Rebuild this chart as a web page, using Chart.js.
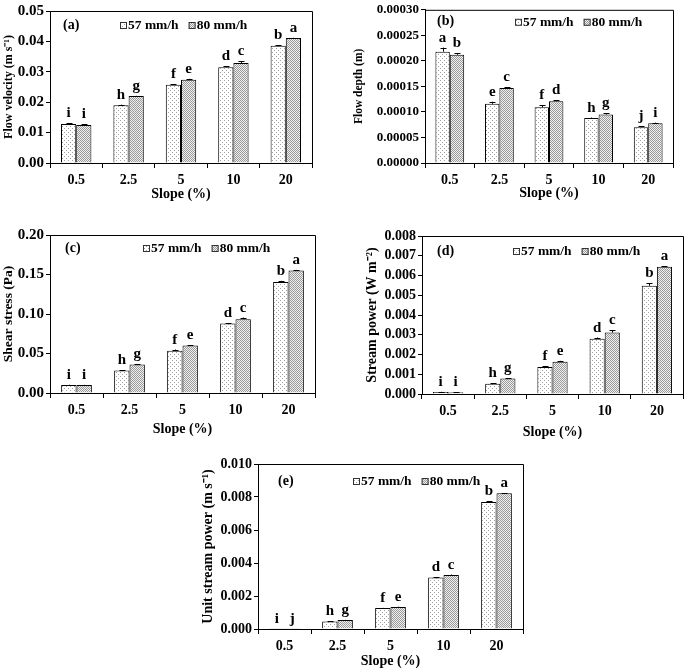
<!DOCTYPE html>
<html>
<head>
<meta charset="utf-8">
<script src="https://cdn.jsdelivr.net/npm/chart.js@4.4.0/dist/chart.umd.min.js"></script>
<style>
  body { margin: 0; background: #fff; }
  #wrap { position: relative; width: 685px; height: 670px; }
  canvas { position: absolute; }
</style>
</head>
<body>
<div id="wrap">
  <canvas id="velChart" width="320" height="203" style="left:0;top:0"></canvas>
  <canvas id="depthChart" width="345" height="202" style="left:340px;top:0"></canvas>
  <canvas id="shearChart" width="320" height="218" style="left:0;top:220px"></canvas>
  <canvas id="powerChart" width="345" height="221" style="left:340px;top:220px"></canvas>
  <canvas id="unitChart" width="360" height="230" style="left:170px;top:440px"></canvas>
</div>
<script>
const slopes = ["0.5", "2.5", "5", "10", "20"];
const rainLabels = ["57 mm/h", "80 mm/h"];

// (a) flow velocity
const vel57 = [0.0128, 0.0190, 0.0257, 0.0315, 0.0386];
const vel80 = [0.0125, 0.0220, 0.0274, 0.0329, 0.0411];
const vel57Err = [0.0003, 0.0002, 0.0002, 0.0003, 0.0002];
const vel80Err = [0.0002, 0.0001, 0.0003, 0.0005, 0.0001];
const vel57Let = ["i", "h", "f", "d", "b"];
const vel80Let = ["i", "g", "e", "c", "a"];

// (b) flow depth
const depth57 = [0.000218, 0.000116, 0.000109, 0.000088, 0.000070];
const depth80 = [0.000212, 0.000147, 0.000121, 0.000095, 0.000078];
const depth57Err = [0.000008, 0.000004, 0.000004, 0.000001, 0.000002];
const depth80Err = [0.000003, 0.000001, 0.000002, 0.000002, 0.000001];
const depth57Let = ["a", "e", "f", "h", "j"];
const depth80Let = ["b", "c", "d", "g", "i"];

// (c) shear stress
const shear57 = [0.0100, 0.0285, 0.0535, 0.0880, 0.1405];
const shear80 = [0.0100, 0.0360, 0.0600, 0.0935, 0.1550];
const shear57Err = [0.0005, 0.0005, 0.0015, 0.0005, 0.0015];
const shear80Err = [0.0003, 0.0003, 0.0008, 0.0020, 0.0008];
const shear57Let = ["i", "h", "f", "d", "b"];
const shear80Let = ["i", "g", "e", "c", "a"];

// (d) stream power
const power57 = [0.00010, 0.00052, 0.00137, 0.00280, 0.00548];
const power80 = [0.00009, 0.00078, 0.00163, 0.00311, 0.00644];
const power57Err = [0.00001, 0.00003, 0.00005, 0.00006, 0.00012];
const power80Err = [0.00001, 0.00003, 0.00005, 0.00011, 0.00004];
const power57Let = ["i", "h", "f", "d", "b"];
const power80Let = ["i", "g", "e", "c", "a"];

// (e) unit stream power
const unit57 = [0.00002, 0.00045, 0.00127, 0.00312, 0.00770];
const unit80 = [0.00002, 0.00055, 0.00134, 0.00327, 0.00823];
const unit57Err = [0.000005, 0.00001, 0.00001, 0.00002, 0.00003];
const unit80Err = [0.000005, 0.00001, 0.00002, 0.00003, 0.00001];
const unit57Let = ["i", "h", "f", "d", "b"];
const unit80Let = ["j", "g", "e", "c", "a"];

const FONT = "'Liberation Serif', 'Times New Roman', serif";

function makePattern(kind) {
  const c = document.createElement("canvas");
  const p = c.getContext("2d");
  if (kind === "light") {
    c.width = 4; c.height = 4;
    p.fillStyle = "#fff"; p.fillRect(0, 0, 4, 4);
    p.fillStyle = "#a0a0a0";
    p.fillRect(0, 0, 1, 1);
    p.fillRect(2, 2, 1, 1);
  } else {
    c.width = 2; c.height = 2;
    p.fillStyle = "#f0f0f0"; p.fillRect(0, 0, 2, 2);
    p.fillStyle = "#9a9a9a";
    p.fillRect(0, 0, 1, 1);
    p.fillRect(1, 1, 1, 1);
  }
  return p.createPattern(c, "repeat");
}
const fill57 = makePattern("light");
const fill80 = makePattern("dense");

const extras = {
  id: "extras",
  afterDatasetsDraw(chart, args, opts) {
    const ctx = chart.ctx;
    const y = chart.scales.y;
    const a = chart.chartArea;
    ctx.save();
    // frame
    ctx.strokeStyle = "#000";
    ctx.lineWidth = 1;
    ctx.beginPath();
    ctx.moveTo(a.left, a.top + 0.5);
    ctx.lineTo(a.right + 0.5, a.top + 0.5);
    ctx.lineTo(a.right + 0.5, a.bottom);
    ctx.stroke();
    // error bars and letters
    chart.data.datasets.forEach((ds, di) => {
      const meta = chart.getDatasetMeta(di);
      meta.data.forEach((bar, i) => {
        const x = Math.round(bar.x) + 0.5;
        const yTop = y.getPixelForValue(ds.data[i] + ds.errors[i]);
        ctx.strokeStyle = "#000";
        ctx.beginPath();
        ctx.moveTo(x, bar.y);
        ctx.lineTo(x, yTop);
        ctx.moveTo(x - 3, Math.round(yTop) + 0.5);
        ctx.lineTo(x + 3, Math.round(yTop) + 0.5);
        ctx.stroke();
        ctx.fillStyle = "#000";
        ctx.font = "bold 15px " + FONT;
        ctx.textAlign = "center";
        ctx.textBaseline = "alphabetic";
        ctx.fillText(ds.letters[i], bar.x, yTop - 6);
      });
    });
    // panel label
    ctx.font = "bold 14px " + FONT;
    ctx.textAlign = "left";
    ctx.textBaseline = "middle";
    ctx.fillText(opts.panel, a.left + opts.panelX, a.top + opts.labelY);
    // legend
    let lx = a.left + opts.legendX;
    const ly = a.top + opts.labelY;
    ctx.font = "bold 13.5px " + FONT;
    chart.data.datasets.forEach((ds, di) => {
      ctx.fillStyle = ds.backgroundColor;
      ctx.fillRect(lx, ly - 3, 7, 7);
      ctx.strokeStyle = "#333";
      ctx.strokeRect(lx + 0.5, ly - 2.5, 6, 6);
      ctx.fillStyle = "#000";
      ctx.fillText(ds.label, lx + 8, ly + 1);
      lx += 8 + ctx.measureText(ds.label).width + 10;
    });
    ctx.restore();
  }
};

function buildPanel(id, cfg) {
  const ctx = document.getElementById(id).getContext("2d");
  new Chart(ctx, {
    type: "bar",
    data: {
      labels: slopes,
      datasets: [
        { label: rainLabels[0], data: cfg.s57, errors: cfg.e57, letters: cfg.l57,
          backgroundColor: fill57, borderColor: "#000", borderWidth: 1 },
        { label: rainLabels[1], data: cfg.s80, errors: cfg.e80, letters: cfg.l80,
          backgroundColor: fill80, borderColor: "#000", borderWidth: 1 }
      ]
    },
    options: {
      responsive: false,
      animation: false,
      devicePixelRatio: 1,
      categoryPercentage: 0.58,
      barPercentage: 1,
      layout: { padding: cfg.pad },
      plugins: {
        legend: { display: false },
        tooltip: { enabled: false },
        extras: cfg.marks
      },
      scales: {
        x: {
          grid: { display: true, drawOnChartArea: false, drawTicks: true, tickLength: 5, color: "#000", offset: true },
          border: { display: true, color: "#000" },
          ticks: { color: "#000", font: { family: FONT, weight: "bold", size: 14 }, padding: 4 },
          title: { display: true, text: "Slope (%)", color: "#000",
                   font: { family: FONT, weight: "bold", size: 14 }, padding: { top: 0, bottom: 0 } },
          afterFit: s => { s.height = cfg.xHeight; }
        },
        y: {
          min: 0, max: cfg.max,
          grid: { display: true, drawOnChartArea: false, drawTicks: true, tickLength: 4, color: "#000" },
          border: { display: true, color: "#000" },
          ticks: { color: "#000", stepSize: cfg.step, padding: 2, autoSkip: false,
                   font: { family: FONT, weight: "bold", size: cfg.tickSize },
                   callback: v => Number(v).toFixed(cfg.dec) },
          title: { display: true, text: cfg.title, color: "#000",
                   font: { family: FONT, weight: "bold", size: cfg.titleSize },
                   padding: { top: cfg.titleLeft, bottom: 2 } },
          afterFit: s => { s.width = cfg.yWidth; }
        }
      }
    },
    plugins: [extras]
  });
}

buildPanel("velChart", {
  s57: vel57, s80: vel80, e57: vel57Err, e80: vel80Err, l57: vel57Let, l80: vel80Let,
  max: 0.05, step: 0.01, dec: 2, title: "Flow velocity (m s\u207B\u00B9)",
  tickSize: 15, titleSize: 12, titleLeft: 2, yWidth: 50, xHeight: 40,
  pad: { top: 6, right: 8, left: 0, bottom: 0 },
  marks: { panel: "(a)", panelX: 13, legendX: 70, labelY: 14 }
});
buildPanel("depthChart", {
  s57: depth57, s80: depth80, e57: depth57Err, e80: depth80Err, l57: depth57Let, l80: depth80Let,
  max: 0.0003, step: 0.00005, dec: 5, title: "Flow depth (m)",
  tickSize: 13, titleSize: 11.5, titleLeft: 12, yWidth: 85, xHeight: 39,
  pad: { top: 5, right: 12, left: 0, bottom: 0 },
  marks: { panel: "(b)", panelX: 12, legendX: 90, labelY: 12 }
});
buildPanel("shearChart", {
  s57: shear57, s80: shear80, e57: shear57Err, e80: shear80Err, l57: shear57Let, l80: shear80Let,
  max: 0.2, step: 0.05, dec: 2, title: "Shear stress (Pa)",
  tickSize: 15, titleSize: 13.5, titleLeft: 0, yWidth: 50, xHeight: 45,
  pad: { top: 15, right: 5, left: 0, bottom: 0 },
  marks: { panel: "(c)", panelX: 15, legendX: 93, labelY: 13 }
});
buildPanel("powerChart", {
  s57: power57, s80: power80, e57: power57Err, e80: power80Err, l57: power57Let, l80: power80Let,
  max: 0.008, step: 0.001, dec: 3, title: "Stream power (W m\u207B\u00B2)",
  tickSize: 14, titleSize: 14, titleLeft: 24, yWidth: 82, xHeight: 47,
  pad: { top: 16, right: 2, left: 0, bottom: 0 },
  marks: { panel: "(d)", panelX: 15, legendX: 91, labelY: 15 }
});
buildPanel("unitChart", {
  s57: unit57, s80: unit80, e57: unit57Err, e80: unit80Err, l57: unit57Let, l80: unit80Let,
  max: 0.01, step: 0.002, dec: 3, title: "Unit stream power (m s\u207B\u00B9)",
  tickSize: 14, titleSize: 14, titleLeft: 30, yWidth: 88, xHeight: 41,
  pad: { top: 24, right: 7, left: 0, bottom: 0 },
  marks: { panel: "(e)", panelX: 20, legendX: 95, labelY: 17 }
});
</script>
</body>
</html>
